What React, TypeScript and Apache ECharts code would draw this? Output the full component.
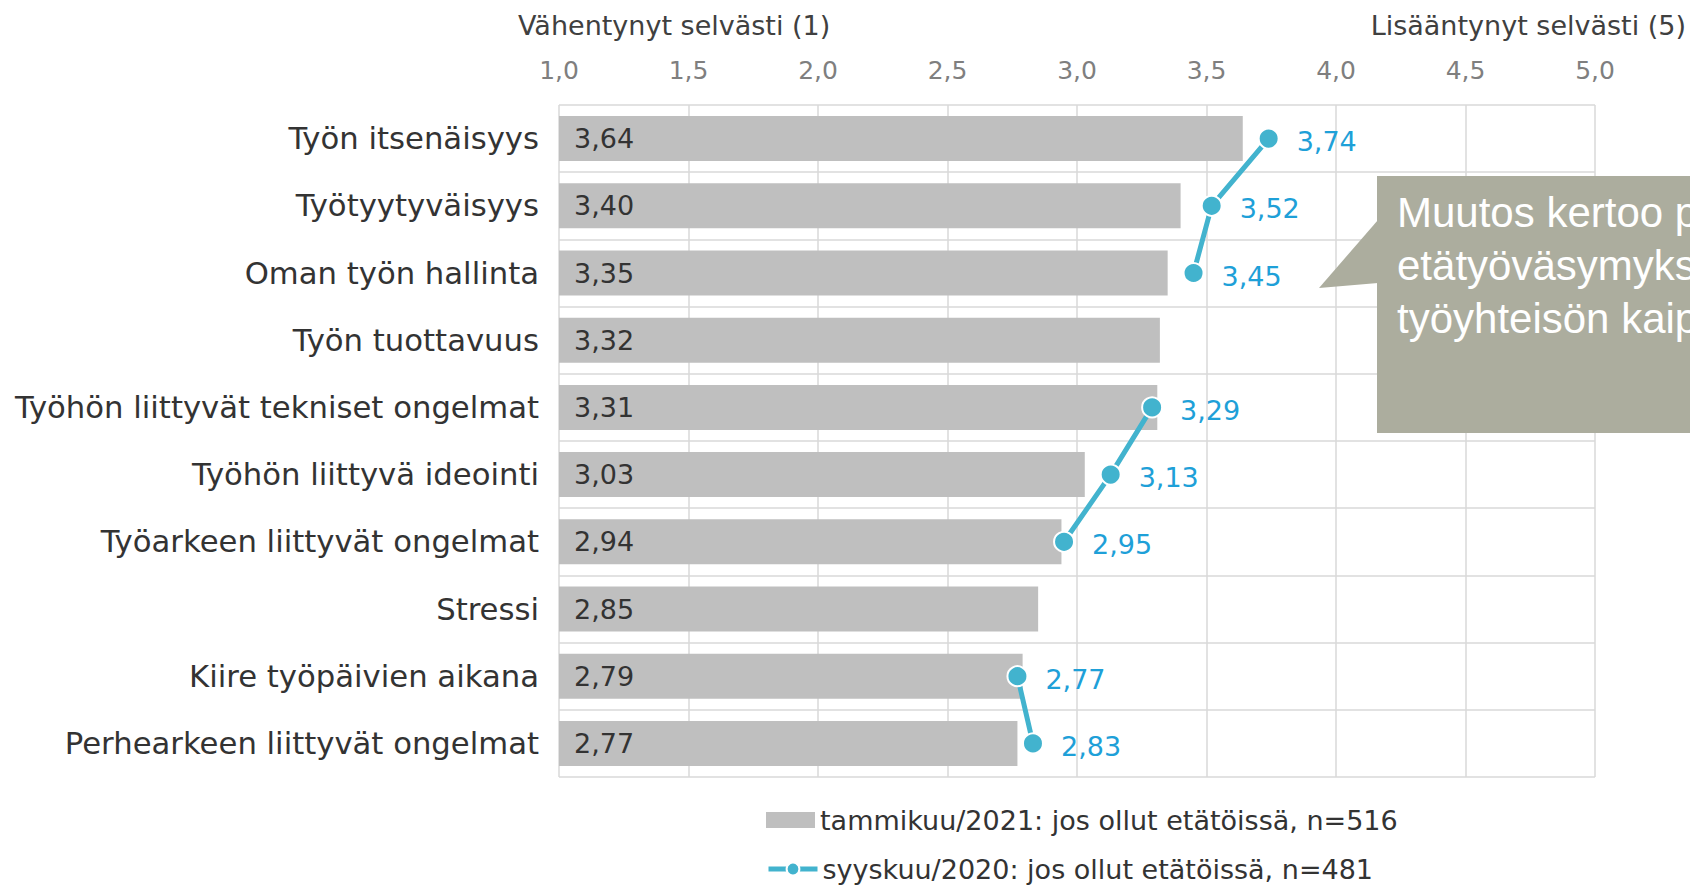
import React, { useEffect, useRef } from "react";
import * as echarts from "echarts";

const categories = [
  "Työn itsenäisyys",
  "Työtyytyväisyys",
  "Oman työn hallinta",
  "Työn tuottavuus",
  "Työhön liittyvät tekniset ongelmat",
  "Työhön liittyvä ideointi",
  "Työarkeen liittyvät ongelmat",
  "Stressi",
  "Kiire työpäivien aikana",
  "Perhearkeen liittyvät ongelmat",
];
const jan2021 = [3.64, 3.4, 3.35, 3.32, 3.31, 3.03, 2.94, 2.85, 2.79, 2.77];
const sep2020: (number | string)[] = [3.74, 3.52, 3.45, "-", 3.29, 3.13, 2.95, "-", 2.77, 2.83];
const seriesNames = [
  "tammikuu/2021: jos ollut etätöissä, n=516",
  "syyskuu/2020: jos ollut etätöissä, n=481",
];
const axisHeaders = ["Vähentynyt selvästi (1)", "Lisääntynyt selvästi (5)"];
const calloutLines = ["Muutos kertoo p", "etätyöväsymyks", "työyhteisön kaip"];

const fmt = (v: number, d: number) => v.toFixed(d).replace(".", ",");

export default function App() {
  const ref = useRef<HTMLDivElement>(null);
  useEffect(() => {
    document.body.style.margin = "0";
    const chart = echarts.init(ref.current!, null, { renderer: "svg" });
    const verdana = "'DejaVu Sans', Verdana, sans-serif";
    const legendBase = {
      orient: "horizontal",
      left: 761,
      itemWidth: 49,
      itemHeight: 16,
      lineStyle: { width: 5 },
      textStyle: { fontSize: 27, fontFamily: verdana, color: "#333333", lineHeight: 30 },
    };
    chart.setOption({
      animation: false,
      backgroundColor: "#ffffff",
      grid: { left: 559, right: 95, top: 105, bottom: 110, containLabel: false },
      xAxis: {
        type: "value",
        position: "top",
        min: 1,
        max: 5,
        interval: 0.5,
        axisLine: { show: false },
        axisTick: { show: false },
        axisLabel: {
          margin: 22,
          fontSize: 25,
          fontFamily: verdana,
          color: "#7f7f7f",
          formatter: (v: number) => fmt(v, 1),
        },
        splitLine: { show: true, lineStyle: { color: "#d9d9d9", width: 1.5 } },
      },
      yAxis: {
        type: "category",
        data: categories,
        inverse: true,
        axisLine: { show: false },
        axisTick: { show: false },
        axisLabel: { margin: 20, fontSize: 30.7, fontFamily: verdana, color: "#333333" },
        splitLine: { show: true, lineStyle: { color: "#d9d9d9", width: 1.5 } },
      },
      legend: [
        { ...legendBase, top: 800, data: [{ name: seriesNames[0], icon: "rect" }] },
        { ...legendBase, top: 849, data: [{ name: seriesNames[1] }] },
      ],
      series: [
        {
          name: seriesNames[0],
          type: "bar",
          data: jan2021,
          barCategoryGap: "33%",
          itemStyle: { color: "#bfbfbf" },
          label: {
            show: true,
            position: "insideLeft",
            distance: 15,
            fontSize: 27,
            fontFamily: verdana,
            color: "#333333",
            formatter: (p: any) => fmt(p.value, 2),
          },
        },
        {
          name: seriesNames[1],
          type: "line",
          data: sep2020,
          connectNulls: false,
          symbol: "circle",
          symbolSize: 20,
          lineStyle: { color: "#42b3ce", width: 5 },
          itemStyle: { color: "#42b3ce", borderColor: "#ffffff", borderWidth: 2 },
          label: {
            show: true,
            position: "right",
            distance: 17,
            offset: [0, 3],
            fontSize: 27,
            fontFamily: verdana,
            color: "#1ea0d8",
            formatter: (p: any) => fmt(p.value, 2),
          },
          z: 3,
        },
      ],
      graphic: [
        {
          type: "text",
          x: 518,
          y: 25,
          style: { text: axisHeaders[0], fontSize: 27, fontFamily: verdana, fill: "#404040", verticalAlign: "middle", align: "left" },
        },
        {
          type: "text",
          x: 1686,
          y: 25,
          style: { text: axisHeaders[1], fontSize: 27, fontFamily: verdana, fill: "#404040", verticalAlign: "middle", align: "right" },
        },
        {
          type: "polygon",
          shape: { points: [[1378, 220], [1319, 288], [1378, 283]] },
          style: { fill: "#acad9e" },
          z: 10,
        },
        {
          type: "rect",
          shape: { x: 1377, y: 176, width: 400, height: 257 },
          style: { fill: "#acad9e" },
          z: 10,
        },
        ...calloutLines.map((t, i) => ({
          type: "text",
          x: 1397,
          y: 212 + i * 53,
          z: 11,
          style: {
            text: t,
            fontSize: 42,
            fontFamily: "'Liberation Sans', Arial, sans-serif",
            fill: "#ffffff",
            verticalAlign: "middle",
            align: "left",
          },
        })),
      ],
    });
    return () => chart.dispose();
  }, []);
  return <div ref={ref} style={{ width: 1690, height: 887 }} />;
}
